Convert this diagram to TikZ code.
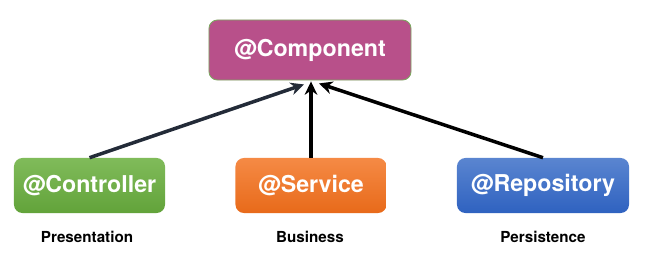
\documentclass[tikz,border=0pt]{standalone}
\usepackage{fontspec}
\setmainfont{TeX Gyre Heros}
\usepackage{tikz}
\usetikzlibrary{calc, arrows.meta, positioning}
\definecolor{compcolor}{RGB}{184,80,138}
\definecolor{compborder}{RGB}{124,168,96}
\definecolor{ctrltop}{RGB}{128,187,90}
\definecolor{ctrlbot}{RGB}{98,163,58}
\definecolor{servtop}{RGB}{245,138,69}
\definecolor{servbot}{RGB}{232,106,26}
\definecolor{repotop}{RGB}{90,133,208}
\definecolor{repobot}{RGB}{47,98,192}
\definecolor{slate}{RGB}{35,43,56}

\begin{document}
\begin{tikzpicture}[x=0.025cm, y=-0.025cm,
  annot/.style={rounded corners=6pt, text=white, font=\fontsize{16.5}{18}\selectfont\bfseries,
    minimum width=3.775cm, minimum height=1.375cm, inner sep=0pt},
  layer/.style={font=\fontsize{10.8}{12}\selectfont\bfseries},
  link/.style={line width=2.5pt, -{Stealth[length=9.5pt, width=9pt]}}]
  \useasboundingbox (0,0) rectangle (653,271);
  % stereotype on top
  \node[annot, fill=compcolor, draw=compborder, line width=0.6pt,
    minimum width=5.05cm, minimum height=1.5cm] (comp) at (310,50) {@Component};
  % specialised stereotypes
  \node[annot, top color=ctrltop, bottom color=ctrlbot] (ctrl) at (89.5,185.5) {@Controller};
  \node[annot, top color=servtop, bottom color=servbot] (serv) at (311,185.5) {@Service};
  \node[annot, top color=repotop, bottom color=repobot, minimum width=4.3cm] (repo) at (543,185.5) {@Repository};
  % layer names
  \node[layer] (pres) at (87,237) {Presentation};
  \node[layer] (busi) at (310,237) {Business};
  \node[layer] (pers) at (543,237) {Persistence};
  % arrow ends below the top box
  \coordinate (hubl) at ($(comp.south)+(-6,4)$);
  \coordinate (hubm) at ($(comp.south)+(1,1)$);
  \coordinate (hubr) at ($(comp.south)+(9,3)$);
  \draw[link, slate] (ctrl.north) -- (hubl);
  \draw[link, black] (serv.north) -- (hubm);
  \draw[link, black] (repo.north) -- (hubr);
\end{tikzpicture}
\end{document}
